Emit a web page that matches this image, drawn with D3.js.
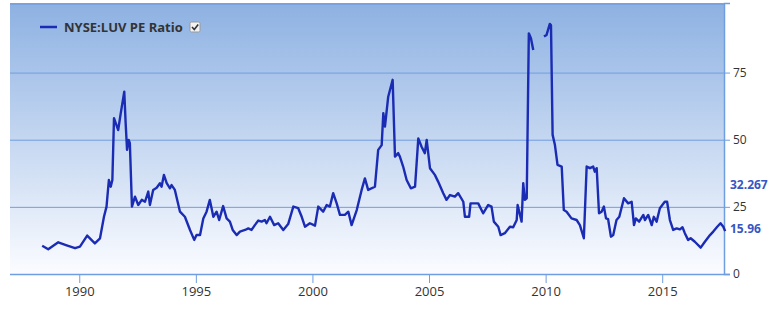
<!DOCTYPE html>
<html>
<head>
<meta charset="utf-8">
<script src="https://cdn.jsdelivr.net/npm/d3@7"></script>
<style>
  body { margin: 0; background: #fff; }
  text { font-family: "Open Sans", "DejaVu Sans", sans-serif; }
</style>
</head>
<body>
<div id="chart"></div>
<script>
// decimal years; null marks the gap in 2009
const years = [
  1988.41, 1988.67, 1989.10, 1989.46, 1989.82, 1990.03, 1990.34, 1990.67, 1990.89, 1991.06,
  1991.17, 1991.27, 1991.35, 1991.42, 1991.49, 1991.67, 1991.78, 1991.93, 1991.99, 1992.05,
  1992.12, 1992.17, 1992.26, 1992.39, 1992.53, 1992.68, 1992.82, 1992.96, 1993.03, 1993.17,
  1993.32, 1993.46, 1993.53, 1993.63, 1993.75, 1993.89, 1993.96, 1994.10, 1994.32, 1994.53,
  1994.75, 1994.93, 1995.03, 1995.18, 1995.32, 1995.46, 1995.60, 1995.75, 1995.89, 1996.00,
  1996.17, 1996.32, 1996.46, 1996.58, 1996.75, 1996.89, 1997.11, 1997.25, 1997.39, 1997.53,
  1997.68, 1997.82, 1997.96, 1998.03, 1998.18, 1998.36, 1998.53, 1998.75, 1998.96, 1999.18,
  1999.39, 1999.54, 1999.68, 1999.89, 2000.11, 2000.25, 2000.46, 2000.61, 2000.75, 2000.89,
  2001.04, 2001.18, 2001.39, 2001.54, 2001.68, 2001.90, 2002.11, 2002.25, 2002.39, 2002.68,
  2002.82, 2002.97, 2003.04, 2003.11, 2003.25, 2003.44, 2003.54, 2003.68, 2003.75, 2003.89,
  2004.04, 2004.22, 2004.40, 2004.54, 2004.68, 2004.82, 2004.90, 2005.04, 2005.25, 2005.39,
  2005.61, 2005.75, 2005.90, 2006.11, 2006.25, 2006.47, 2006.54, 2006.72, 2006.78, 2006.97,
  2007.11, 2007.32, 2007.54, 2007.68, 2007.78, 2007.97, 2008.07, 2008.25, 2008.47, 2008.61,
  2008.76, 2008.80, 2008.97, 2009.04, 2009.11, 2009.19, 2009.28, 2009.37, 2009.47, 2009.70,
  2009.93, 2010.04, 2010.18, 2010.23, 2010.30, 2010.40, 2010.51, 2010.69, 2010.78, 2010.90,
  2011.11, 2011.33, 2011.47, 2011.64, 2011.76, 2011.90, 2012.04, 2012.11, 2012.19, 2012.29,
  2012.40, 2012.50, 2012.59, 2012.68, 2012.80, 2012.90, 2013.04, 2013.16, 2013.36, 2013.54,
  2013.69, 2013.79, 2013.87, 2014.01, 2014.19, 2014.26, 2014.40, 2014.55, 2014.64, 2014.76,
  2014.90, 2015.11, 2015.21, 2015.33, 2015.47, 2015.62, 2015.76, 2015.87, 2015.97, 2016.11,
  2016.22, 2016.40, 2016.65, 2016.83, 2017.05, 2017.19, 2017.36, 2017.50, 2017.62, 2017.70
];
const peValues = [
  10.5, 9.2, 11.8, 10.7, 9.6, 10.2, 14.3, 11.4, 13.3, 21.3,
  25.1, 35.0, 32.5, 35.0, 58.0, 53.6, 59.9, 67.9, 56.1, 46.2,
  49.9, 48.7, 25.1, 28.8, 25.7, 27.6, 26.9, 30.7, 25.7, 31.3,
  32.1, 33.8, 32.5, 36.9, 33.8, 31.9, 33.1, 31.3, 23.2, 21.3,
  16.4, 12.7, 14.5, 14.5, 20.7, 23.2, 27.6, 21.3, 23.2, 20.1,
  25.3, 20.7, 19.5, 16.4, 14.5, 15.8, 16.4, 17.0, 16.4, 18.2,
  19.9, 19.5, 20.1, 18.9, 21.3, 18.2, 18.9, 16.4, 18.6, 25.1,
  24.5, 21.3, 17.6, 18.9, 18.0, 25.1, 23.2, 25.7, 25.1, 30.1,
  26.3, 22.0, 22.0, 23.2, 18.2, 23.8, 31.3, 35.6, 31.3, 32.5,
  46.2, 48.0, 59.9, 54.9, 66.0, 72.3, 43.7, 45.0, 43.7, 40.0,
  35.0, 31.9, 32.5, 50.5, 47.4, 45.0, 49.9, 39.4, 36.9, 34.4,
  30.1, 27.6, 29.4, 28.8, 30.1, 26.9, 21.3, 21.3, 26.3, 26.3,
  26.3, 22.6, 25.7, 25.1, 19.5, 17.6, 14.5, 15.2, 17.6, 17.4,
  20.1, 25.7, 19.5, 33.8, 27.6, 28.2, 89.6, 87.8, 83.4, null,
  88.4, 89.0, 93.1, 92.7, 51.8, 48.0, 40.6, 40.0, 23.8, 23.2,
  20.7, 20.1, 18.2, 13.3, 40.0, 39.4, 40.0, 38.1, 39.4, 22.6,
  23.2, 25.1, 20.7, 20.4, 13.9, 14.5, 20.1, 21.3, 28.2, 26.3,
  26.9, 18.2, 20.7, 19.5, 22.0, 20.1, 22.0, 18.2, 21.3, 19.5,
  24.5, 26.9, 26.9, 20.1, 16.4, 17.0, 16.6, 17.4, 15.2, 12.7,
  13.3, 12.0, 9.8, 12.0, 14.5, 15.8, 17.6, 18.9, 17.6, 15.96
];
const xTicks = [1990, 1995, 2000, 2005, 2010, 2015];
const yTicks = [0, 25, 50, 75];
const flagValues = [32.267, 15.96];
const seriesName = "NYSE:LUV PE Ratio";

const width = 770, height = 318;
const plot = { left: 10, right: 724, top: 3, bottom: 274 };

const svg = d3.select("#chart").append("svg")
  .attr("width", width)
  .attr("height", height);

const x = d3.scaleLinear().domain([1987.03, 2017.65]).range([plot.left, plot.right]);
const y = d3.scaleLinear().domain([0, 100.9]).range([plot.bottom, plot.top]);

// background gradient
const grad = svg.append("defs").append("linearGradient")
  .attr("id", "bg").attr("x1", 0).attr("y1", 0).attr("x2", 0).attr("y2", 1);
grad.append("stop").attr("offset", "0%").attr("stop-color", "#8db1e2");
grad.append("stop").attr("offset", "100%").attr("stop-color", "#fbfcff");

svg.append("rect")
  .attr("x", plot.left).attr("y", plot.top)
  .attr("width", plot.right - plot.left).attr("height", plot.bottom - plot.top)
  .attr("fill", "url(#bg)");

// top border
svg.append("line")
  .attr("x1", plot.left).attr("x2", plot.right)
  .attr("y1", plot.top + 1).attr("y2", plot.top + 1)
  .attr("stroke", "#7aa3de").attr("stroke-width", 2);

// right y axis with gridlines
const yAxis = svg.append("g")
  .attr("transform", `translate(${plot.right},0)`)
  .call(d3.axisRight(y).tickValues(yTicks).tickSize(6).tickPadding(3));
yAxis.select(".domain").attr("stroke", "#6f9ee0").attr("stroke-width", 1.5);
yAxis.selectAll(".tick line").attr("stroke", "#6f9ee0");
yAxis.selectAll(".tick text").attr("fill", "#333").style("font-size", "12px");

svg.append("g").selectAll("line")
  .data(yTicks.filter(d => d > 0))
  .join("line")
  .attr("x1", plot.left).attr("x2", plot.right)
  .attr("y1", d => y(d) + 0.5).attr("y2", d => y(d) + 0.5)
  .attr("stroke", "#6f9ee0").attr("stroke-width", 1);

// bottom x axis
const xAxis = svg.append("g")
  .attr("transform", `translate(0,${plot.bottom})`)
  .call(d3.axisBottom(x).tickValues(xTicks).tickFormat(d3.format("d")).tickSize(9).tickPadding(4));
xAxis.select(".domain").attr("stroke", "#6f9ee0").attr("stroke-width", 1.5)
  .attr("d", `M${plot.left},0.5H${plot.right + 6}`);
xAxis.selectAll(".tick line").attr("stroke", "#6f9ee0");
xAxis.selectAll(".tick text").attr("fill", "#333").style("font-size", "13px");

// PE line
const line = d3.line()
  .defined(d => d[1] !== null)
  .x(d => x(d[0]))
  .y(d => y(d[1]));

svg.append("path")
  .datum(years.map((t, i) => [t, peValues[i]]))
  .attr("fill", "none")
  .attr("stroke", "#1b2cb4")
  .attr("stroke-width", 2.4)
  .attr("stroke-linejoin", "round")
  .attr("d", line);

// value flags on the right
svg.append("g").selectAll("text")
  .data(flagValues)
  .join("text")
  .attr("x", plot.right + 6)
  .attr("y", d => y(d) + 2)
  .attr("fill", "#3556c4")
  .style("font-size", "12px")
  .style("font-weight", "bold")
  .text(d => d);

// legend
const legend = svg.append("g").attr("transform", "translate(40,27)");
legend.append("line")
  .attr("x1", 0).attr("x2", 17).attr("y1", 0).attr("y2", 0)
  .attr("stroke", "#1b2cb4").attr("stroke-width", 2.5);
legend.append("text")
  .attr("x", 24).attr("y", 4.5)
  .attr("fill", "#333")
  .style("font-size", "13px")
  .style("font-weight", "bold")
  .text(seriesName);
const box = legend.append("g").attr("transform", "translate(150,-5)");
box.append("rect")
  .attr("width", 10).attr("height", 10).attr("rx", 1.5)
  .attr("fill", "#f2f2f2").attr("stroke", "#999");
box.append("path")
  .attr("d", "M2,5 L4.3,7.5 L8.2,2.6")
  .attr("fill", "none").attr("stroke", "#333").attr("stroke-width", 1.6);
</script>
</body>
</html>
